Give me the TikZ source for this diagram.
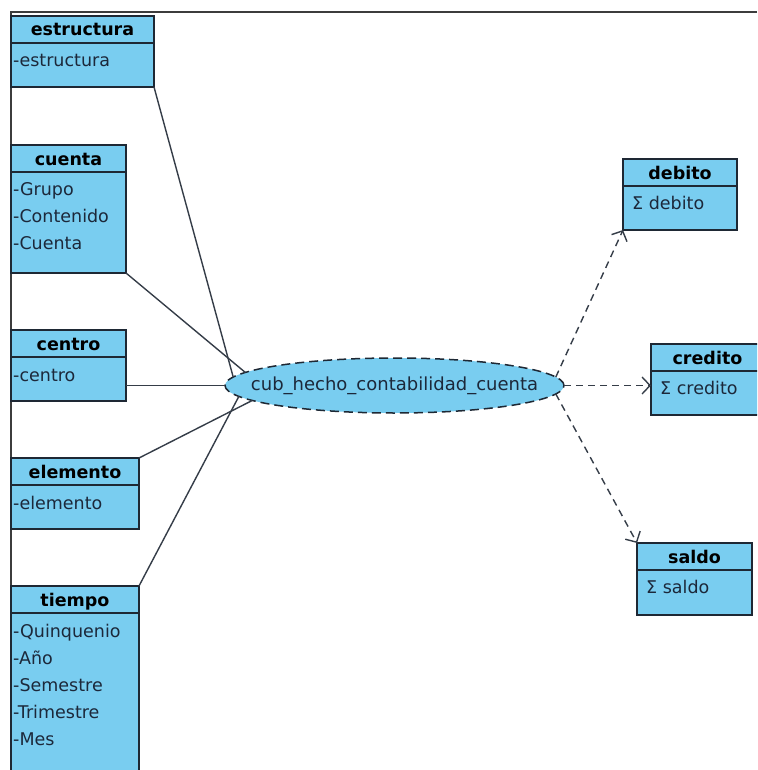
\documentclass[tikz,border=0pt]{standalone}
\usepackage{fontspec}
\setmainfont{DejaVu Sans}
\usetikzlibrary{shapes.geometric,arrows.meta}
\definecolor{classfill}{RGB}{121,205,240}
\definecolor{edge}{RGB}{30,40,52}
\definecolor{ink}{RGB}{28,40,58}
\definecolor{framegray}{RGB}{60,60,60}
\begin{document}
\begin{tikzpicture}[x=1pt,y=-1pt,
  cls/.style={draw=edge,fill=classfill,line width=1.5pt,inner sep=0pt,outer sep=0pt,anchor=north west},
  divider/.style={draw=edge,line width=1.3pt},
  hdr/.style={anchor=base,font=\fontsize{17.5}{21}\selectfont\bfseries,text=black,inner sep=0pt},
  item/.style={anchor=base west,font=\fontsize{17.5}{21}\selectfont,text=ink,inner sep=0pt},
  link/.style={draw=edge!90,line width=1.4pt},
  dep/.style={draw=edge!90,line width=1.4pt,dash pattern=on 7pt off 5pt,
    -{Straight Barb[length=8pt,width=17pt,line width=1.4pt]}},
]
\useasboundingbox (0,0) rectangle (757,770);
\clip (0,0) rectangle (757,770);
\fill[white] (0,0) rectangle (757,770);

% panel border
\draw[framegray,line width=2pt] (757,12.5) -- (10.5,12.5) -- (10.5,770);

% dimension classes
\node[cls,minimum width=143pt,minimum height=71pt]  (estructura) at (11,16)  {};
\node[cls,minimum width=115pt,minimum height=128pt] (cuenta)     at (11,145) {};
\node[cls,minimum width=115pt,minimum height=71pt]  (centro)     at (11,330) {};
\node[cls,minimum width=128pt,minimum height=71pt]  (elemento)   at (11,458) {};
\node[cls,minimum width=128pt,minimum height=200pt] (tiempo)     at (11,586) {};

% measure classes
\node[cls,minimum width=114pt,minimum height=71pt]  (debito)  at (623,159) {};
\node[cls,minimum width=113pt,minimum height=71pt]  (credito) at (651,344) {};
\node[cls,minimum width=115pt,minimum height=72pt]  (saldo)   at (637,543) {};

% header separators and titles
\foreach \n in {estructura,cuenta,centro,elemento,tiempo,debito,credito,saldo}{
  \draw[divider] ([yshift=-27pt]\n.north west) -- ([yshift=-27pt]\n.north east);
  \node[hdr] (\n-title) at ([yshift=-20pt]\n.north) {\n};
}

% attributes
\node[item] (estructura-a0) at ([xshift=2pt,yshift=-51pt]estructura.north west) {-estructura};
\foreach \t [count=\i from 0] in {-Grupo,-Contenido,-Cuenta}
  \node[item] (cuenta-a\i) at ([xshift=2pt,yshift={-50pt-\i*27pt}]cuenta.north west) {\t};
\node[item] (centro-a0) at ([xshift=2pt,yshift=-51pt]centro.north west) {-centro};
\node[item] (elemento-a0) at ([xshift=2pt,yshift=-51pt]elemento.north west) {-elemento};
\foreach \t [count=\i from 0] in {-Quinquenio,-Año,-Semestre,-Trimestre,-Mes}
  \node[item] (tiempo-a\i) at ([xshift=2pt,yshift={-51pt-\i*27pt}]tiempo.north west) {\t};
\node[item] (debito-a0)  at ([xshift=9pt,yshift=-50.5pt]debito.north west)  {Σ debito};
\node[item] (credito-a0) at ([xshift=9pt,yshift=-50.5pt]credito.north west) {Σ credito};
\node[item] (saldo-a0)   at ([xshift=9pt,yshift=-50.5pt]saldo.north west)   {Σ saldo};

% fact cube
\node[ellipse,draw=edge,fill=classfill,line width=1.5pt,dash pattern=on 9pt off 5pt,
      minimum width=339pt,minimum height=55pt,inner sep=0pt,outer sep=0pt] (cube) at (394.5,385.5) {};
\node[font=\fontsize{18}{21}\selectfont,text=ink,inner sep=0pt] (cube-label) at (cube.center)
  {cub\_hecho\_contabilidad\_cuenta};

% dimension links
\draw[link] (estructura.south east) -- (cube.177);
\draw[link] (cuenta.south east) -- (cube.175);
\draw[link] (cube.west -| centro.east) -- (cube.west);
\draw[link] (elemento.north east) -- (cube.186);
\draw[link] (tiempo.north east) -- (cube.184);

% measure dependencies
\draw[dep] (cube.3) -- (debito.south west);
\draw[dep] (cube.east) -- (cube.east -| credito.west);
\draw[dep] (cube.357) -- (saldo.north west);
\end{tikzpicture}
\end{document}
